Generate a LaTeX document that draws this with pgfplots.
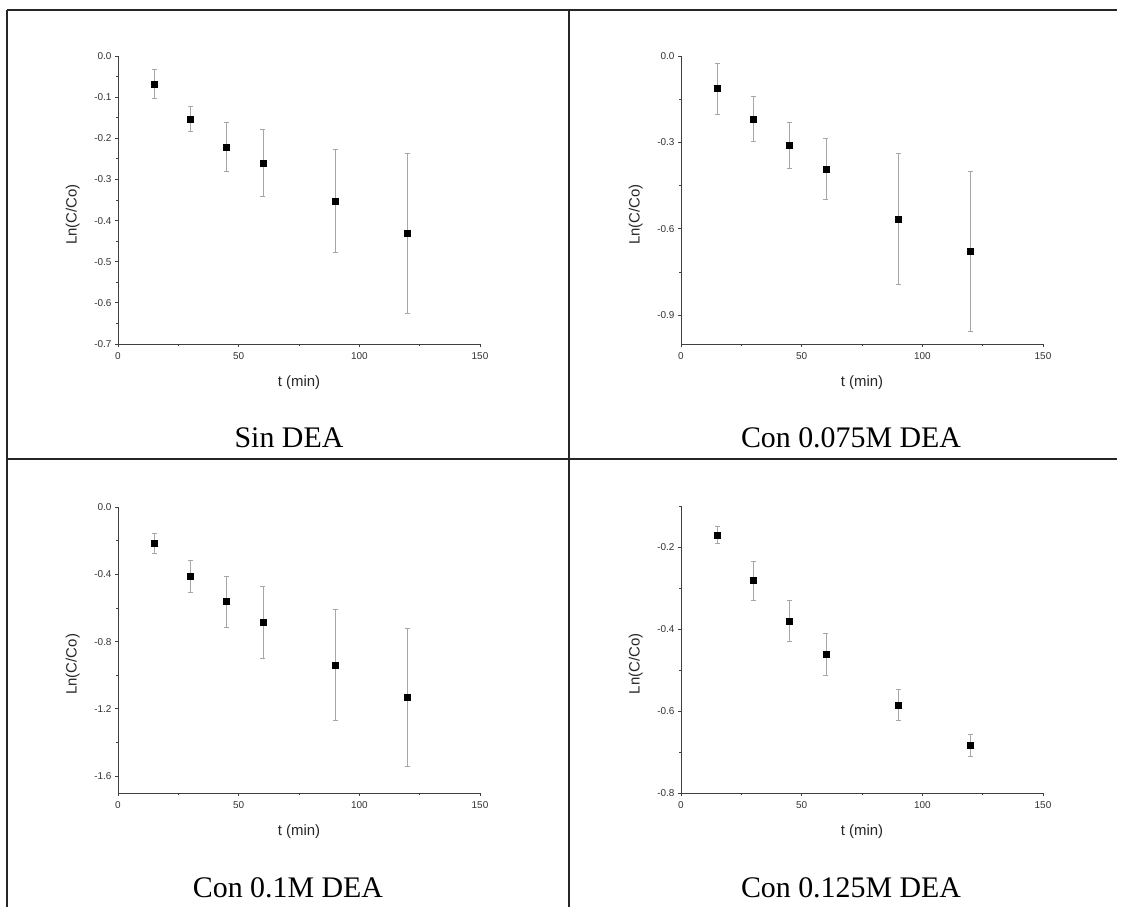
\documentclass[border=0pt]{standalone}
\usepackage{fontspec}
\setmainfont{Liberation Serif}
\setsansfont{Liberation Sans}
\usepackage{pgfplots}
\pgfplotsset{compat=1.18}

% Ln(C/Co) versus time, four DEA concentrations: t  y  error
\newcommand{\sinDEA}{
(15,-0.068) +- (0,0.036)
(30,-0.153) +- (0,0.030)
(45,-0.221) +- (0,0.060)
(60,-0.260) +- (0,0.082)
(90,-0.352) +- (0,0.125)
(120,-0.431) +- (0,0.195)}
\newcommand{\deaA}{
(15,-0.113) +- (0,0.088)
(30,-0.219) +- (0,0.078)
(45,-0.310) +- (0,0.079)
(60,-0.392) +- (0,0.105)
(90,-0.566) +- (0,0.228)
(120,-0.679) +- (0,0.278)}
\newcommand{\deaB}{
(15,-0.218) +- (0,0.060)
(30,-0.409) +- (0,0.095)
(45,-0.561) +- (0,0.152)
(60,-0.684) +- (0,0.213)
(90,-0.938) +- (0,0.330)
(120,-1.131) +- (0,0.408)}
\newcommand{\deaC}{
(15,-0.170) +- (0,0.020)
(30,-0.282) +- (0,0.048)
(45,-0.380) +- (0,0.050)
(60,-0.461) +- (0,0.051)
(90,-0.585) +- (0,0.037)
(120,-0.683) +- (0,0.027)}

\pgfplotsset{
  panel/.style={
    scale only axis, width=362bp, height=288bp, anchor=south west,
    axis x line*=bottom, axis y line*=left,
    xmin=0, xmax=150, xtick={0,50,100,150}, minor x tick num=1,
    tick align=outside, major tick length=3bp, minor tick length=2bp,
    ticklabel style={font=\fontsize{10}{12}\selectfont\sffamily, text=black!80},
    xticklabel style={yshift=-2bp},
    /pgf/number format/assume math mode=true,
    yticklabel style={/pgf/number format/.cd, fixed, fixed zerofill, precision=1},
    xlabel={t (min)}, ylabel={Ln(C/Co)},
    every axis x label/.style={at={(axis description cs:0.5,-0.135)}, anchor=center,
      font=\fontsize{15}{18}\selectfont\sffamily, text=black!85},
    every axis y label/.style={at={(axis description cs:-0.125,0.45)}, rotate=90, anchor=center,
      font=\fontsize{15}{18}\selectfont\sffamily, text=black!85},
    axis line style={black!75, line width=0.8bp},
    every tick/.style={black!75, line width=0.8bp},
    clip=false,
  },
  pts/.style={only marks, mark=square*, mark size=3bp, color=black,
    mark options={draw=black, fill=black},
    error bars/.cd, y dir=both, y explicit,
    error bar style={black!35, line width=0.6bp},
    error mark options={rotate=90, mark size=2.5bp, black!35, line width=0.6bp}},
}
\tikzset{panelcaption/.style={anchor=base, font=\fontsize{30}{36}\selectfont}}

\begin{document}
\begin{tikzpicture}
\useasboundingbox (0,0) rectangle (1121bp,-907bp);

% table rules
\begin{scope}[black!85, line width=1.3bp]
\draw (7bp,-10bp) -- (1117bp,-10bp);
\draw (7bp,-459bp) -- (1117bp,-459bp);
\draw (7bp,-10bp) -- (7bp,-907bp);
\draw (569bp,-10bp) -- (569bp,-907bp);
\end{scope}

% Sin DEA
\begin{axis}[panel, at={(118bp,-344bp)}, ymin=-0.7, ymax=0,
  ytick={-0.7,-0.6,...,0.01}, minor y tick num=1]
\addplot[pts] coordinates {\sinDEA};
\end{axis}
\node[panelcaption] at (289bp,-447bp) {Sin DEA};

% 0.075 M DEA
\begin{axis}[panel, at={(681bp,-344bp)}, ymin=-1.0, ymax=0,
  ytick={-0.9,-0.6,-0.3,0}, minor y tick num=1]
\addplot[pts] coordinates {\deaA};
\end{axis}
\node[panelcaption] at (851bp,-447bp) {Con 0.075M DEA};

% 0.1 M DEA
\begin{axis}[panel, at={(118bp,-793bp)}, height=286bp, ymin=-1.7, ymax=0,
  ytick={-1.6,-1.2,-0.8,-0.4,0}, minor y tick num=1]
\addplot[pts] coordinates {\deaB};
\end{axis}
\node[panelcaption] at (288bp,-897bp) {Con 0.1M DEA};

% 0.125 M DEA
\begin{axis}[panel, at={(681bp,-793bp)}, height=287bp, ymin=-0.8, ymax=-0.1,
  ytick={-0.8,-0.6,-0.4,-0.2}, minor ytick={-0.7,-0.5,-0.3,-0.1}]
\addplot[pts] coordinates {\deaC};
\end{axis}
\node[panelcaption] at (851bp,-897bp) {Con 0.125M DEA};
\end{tikzpicture}
\end{document}
